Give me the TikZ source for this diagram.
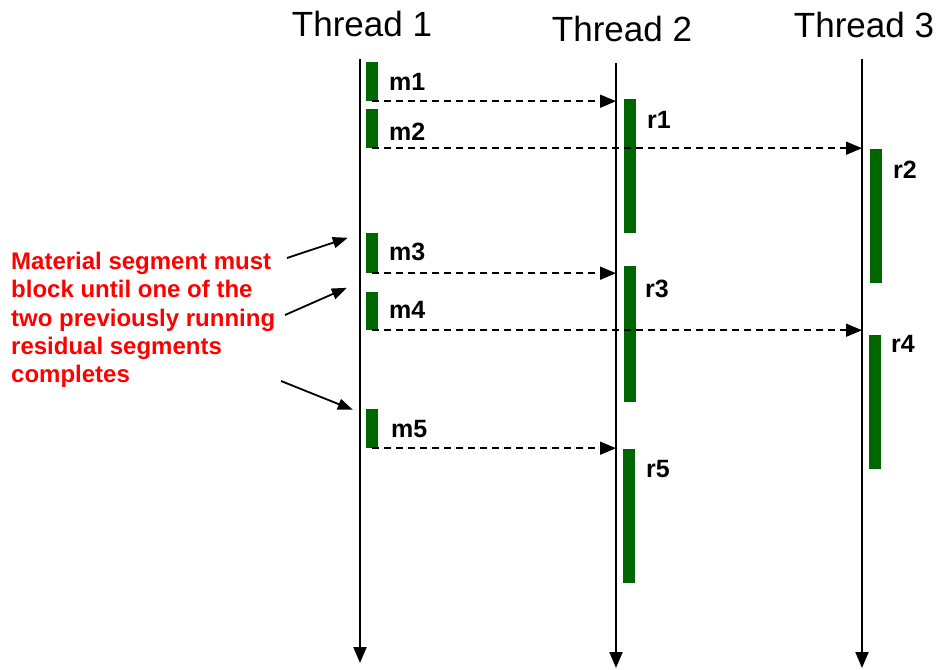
\documentclass[tikz,border=0pt]{standalone}
\usepackage{fontspec}
\setmainfont{Liberation Sans}
\usetikzlibrary{arrows.meta}
\definecolor{segGreen}{RGB}{0,102,0}
\tikzset{
  thread/.style={line width=2pt, -{Triangle[length=16pt,width=13pt]}},
  msg/.style={line width=1.6pt, dash pattern=on 7pt off 5pt, -{Triangle[length=16pt,width=13pt]}},
  pointer/.style={line width=1.8pt, -{Triangle[length=15pt,width=11pt]}},
  seg/.style={fill=segGreen, draw=none, inner sep=0pt, minimum width=12pt},
  seglabel/.style={anchor=base west, inner sep=0pt, font=\bfseries\fontsize{25}{30}\selectfont},
  threadlabel/.style={anchor=base, inner sep=0pt, font=\fontsize{35}{42}\selectfont},
}
\begin{document}
\begin{tikzpicture}[x=1pt, y=-1pt]
\useasboundingbox (0,0) rectangle (938,670);

% thread headings
\node[threadlabel] (h1) at (362,36) {Thread 1};
\node[threadlabel] (h2) at (622,41) {Thread 2};
\node[threadlabel] (h3) at (864,37) {Thread 3};

% time lines
\coordinate (t1top) at (360,59);  \coordinate (t1bot) at (360,663);
\coordinate (t2top) at (616,63);  \coordinate (t2bot) at (616,668);
\coordinate (t3top) at (862,59);  \coordinate (t3bot) at (862,668);
\draw[thread] (t1top) -- (t1bot);
\draw[thread] (t2top) -- (t2bot);
\draw[thread] (t3top) -- (t3bot);

% material segments on thread 1
\node[seg, minimum height=39pt] (m1) at (372,81.5) {};
\node[seg, minimum height=39pt] (m2) at (372,128.5) {};
\node[seg, minimum height=40pt] (m3) at (372,253) {};
\node[seg, minimum height=38pt] (m4) at (372,311) {};
\node[seg, minimum height=39pt] (m5) at (372,428.5) {};

% residual segments on threads 2 and 3
\node[seg, minimum height=134pt] (r1) at (630,166) {};
\node[seg, minimum height=134pt] (r2) at (876,216) {};
\node[seg, minimum height=136pt] (r3) at (630,334) {};
\node[seg, minimum height=134pt] (r4) at (875,402) {};
\node[seg, minimum height=134pt] (r5) at (629,516) {};

% segment labels
\node[seglabel] (lm1) at (389,90) {m1};
\node[seglabel] (lm2) at (389,140) {m2};
\node[seglabel] (lm3) at (389,260) {m3};
\node[seglabel] (lm4) at (389,318) {m4};
\node[seglabel] (lm5) at (391,437) {m5};
\node[seglabel] (lr1) at (647,128) {r1};
\node[seglabel] (lr2) at (893,178) {r2};
\node[seglabel] (lr3) at (645,297) {r3};
\node[seglabel] (lr4) at (891,352) {r4};
\node[seglabel] (lr5) at (646,477) {r5};

% hand-off messages
\draw[msg] (m1.south) -- (m1.south -| t2top);
\draw[msg] (m2.south) -- (m2.south -| t3top);
\draw[msg] (m3.south) -- (m3.south -| t2top);
\draw[msg] (m4.south) -- (m4.south -| t3top);
\draw[msg] (m5.south) -- (m5.south -| t2top);

% annotation
\node[anchor=north west, inner sep=0pt, align=left, text=red,
      font=\bfseries\fontsize{24}{28.3}\selectfont] (note) at (11,252)
  {Material segment must\\block until one of the\\two previously running\\residual segments\\completes};
\coordinate (p1) at (287,258);
\coordinate (p2) at (285,315);
\coordinate (p3) at (281,381);
\draw[pointer] (p1) -- ([xshift=-18pt,yshift=-5pt]m3.north west);
\draw[pointer] (p2) -- ([xshift=-19pt,yshift=4pt]m4.north west);
\draw[pointer] (p3) -- ([xshift=-13pt,yshift=-1pt]m5.north west);
\end{tikzpicture}
\end{document}
